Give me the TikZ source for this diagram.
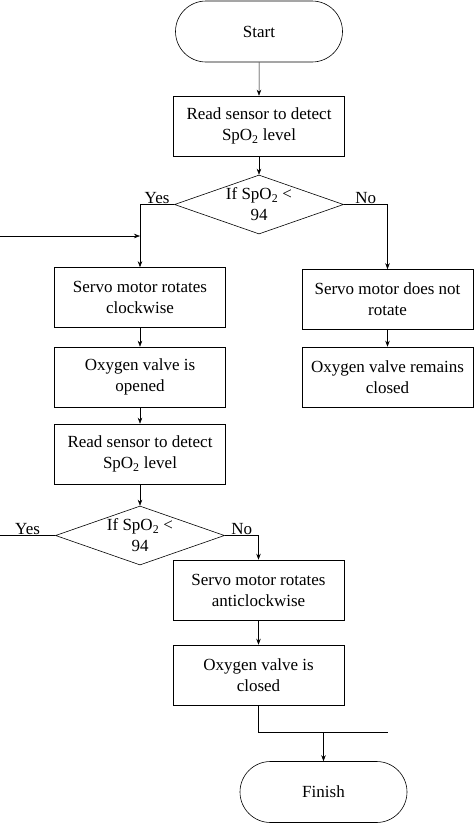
\documentclass[tikz,border=0pt]{standalone}
\usepackage{fontspec}
\setmainfont{Liberation Serif}
\usetikzlibrary{shapes.geometric,shapes.misc,arrows.meta}

\begin{document}
\begin{tikzpicture}[x=1pt, y=-1pt,
    every node/.style={font=\fontsize{17}{21}\selectfont},
    term/.style={rounded rectangle, draw=black, semithick,
        minimum width=171pt, minimum height=61pt, inner sep=2pt},
    proc/.style={rectangle, draw=black, semithick, align=center,
        minimum width=171pt, minimum height=60pt, inner sep=2pt},
    decision/.style={diamond, draw=black, semithick, align=center, aspect=2.86,
        minimum width=169pt, minimum height=59pt, inner sep=-1pt},
    flow/.style={line width=0.5pt, -{Stealth[length=6pt,width=4.5pt]}},
    line/.style={line width=0.5pt, -}
]
    \useasboundingbox (0,0) rectangle (474,823);
    \node[term] (start) at (259,31.5) {Start};
    \node[proc] (read1) at (259,126) {Read sensor to detect\\SpO\textsubscript{2} level};
    \node[decision] (dec1) at (259,204.5) {If SpO\textsubscript{2} <\\94};
    \node[proc] (cw) at (140,297.5) {Servo motor rotates\\clockwise};
    \node[proc] (open) at (140,377) {Oxygen valve is\\opened};
    \node[proc] (read2) at (140,454) {Read sensor to detect\\SpO\textsubscript{2} level};
    \node[decision] (dec2) at (140,535.5) {If SpO\textsubscript{2} <\\94};
    \node[proc] (acw) at (258.5,590) {Servo motor rotates\\anticlockwise};
    \node[proc] (closed) at (258.5,675) {Oxygen valve is\\closed};
    \node[proc] (norot) at (387.5,299.5) {Servo motor does not\\rotate};
    \node[proc] (remain) at (387.5,377) {Oxygen valve remains\\closed};
    \node[term] (finish) at (323.5,792) {Finish};
    \coordinate (loopin) at (0,236);
    \coordinate (loopout) at (0,535.5);
    \coordinate (merge) at (387.5,732);

    \draw[flow] (start) -- (read1);
    \draw[flow] (read1) -- (dec1);
    \draw[flow] (dec1.west) -- node[above, inner sep=1pt] {Yes} (dec1.west -| cw.north) -- (cw.north);
    \draw[flow] (dec1.east) -- node[above, inner sep=1pt] {No} (dec1.east -| norot.north) -- (norot.north);
    \draw[flow] (loopin) -- (loopin -| cw.north);
    \draw[flow] (cw) -- (open);
    \draw[flow] (open) -- (read2);
    \draw[flow] (read2) -- (dec2);
    \draw[line] (dec2.west) -- node[above, inner sep=1pt] {Yes} (loopout);
    \draw[flow] (dec2.east) -- node[above, inner sep=1pt] {No} (dec2.east -| acw.north) -- (acw.north);
    \draw[flow] (acw) -- (closed);
    \draw[flow] (norot) -- (remain);
    \draw[line] (closed.south) |- (merge);
    \draw[flow] (finish.north |- merge) -- (finish.north);
\end{tikzpicture}
\end{document}
